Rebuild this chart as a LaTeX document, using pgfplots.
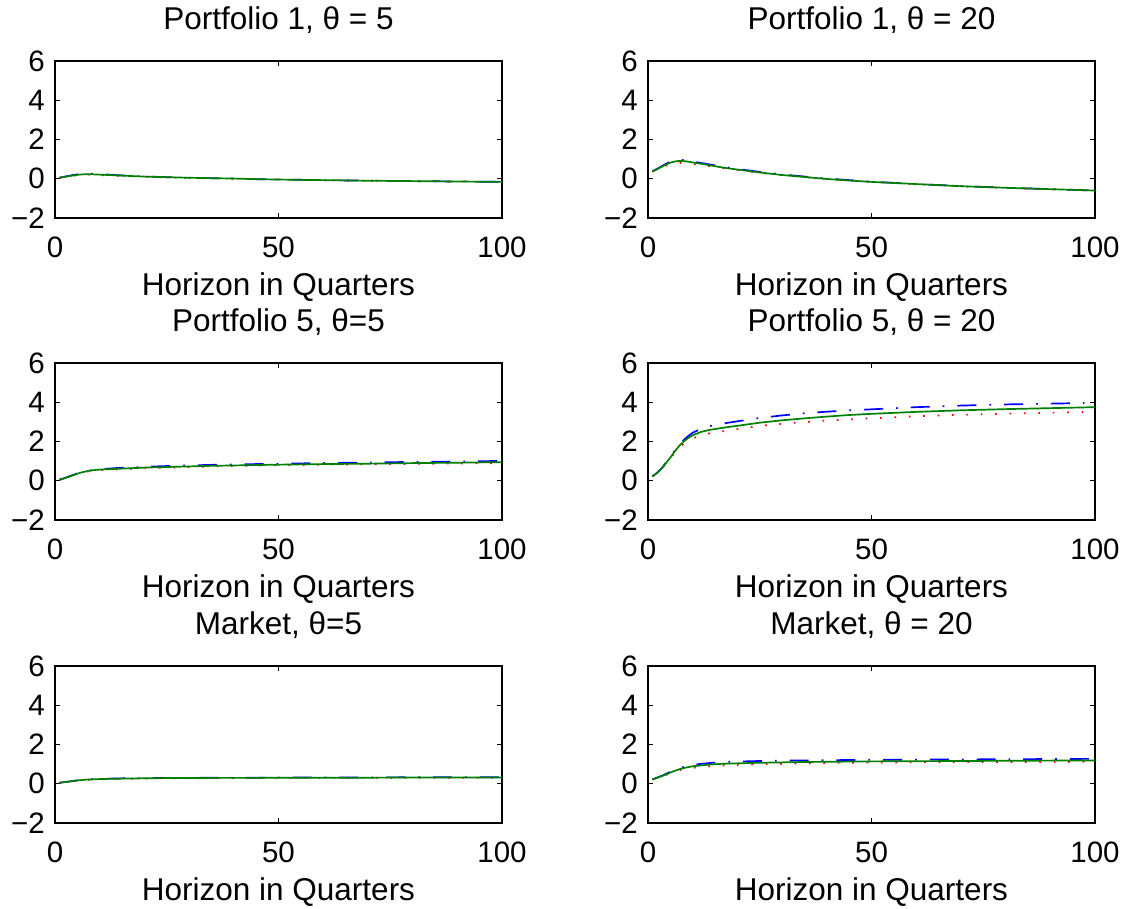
\documentclass[border=0pt]{standalone}
\usepackage{fontspec}
\setmainfont{Liberation Sans}
\usepackage{pgfplots}
\usepackage{pgfplotstable}
\pgfplotsset{compat=1.18}
\definecolor{mblue}{rgb}{0,0,1}
\definecolor{mred}{rgb}{1,0,0}
\definecolor{mgreen}{rgb}{0,0.5,0}
\newcommand{\fs}{\fontsize{29.5}{34}\selectfont}
\newcommand{\fl}{\fontsize{31.5}{36}\selectfont}

\pgfplotstableread{
x b r g
1 0.05 0.05 0.05
2 0.10 0.08 0.09
3 0.14 0.12 0.13
4 0.19 0.15 0.17
5 0.22 0.18 0.20
6 0.25 0.20 0.22
7 0.26 0.21 0.23
8 0.26 0.21 0.23
9 0.25 0.20 0.22
10 0.23 0.19 0.21
12 0.21 0.17 0.19
14 0.18 0.15 0.17
16 0.16 0.14 0.15
18 0.14 0.12 0.13
20 0.12 0.10 0.11
25 0.08 0.07 0.08
30 0.05 0.04 0.05
35 0.03 0.02 0.03
40 0.01 0.00 0.01
45 -0.02 -0.02 -0.02
50 -0.04 -0.04 -0.04
60 -0.07 -0.07 -0.07
70 -0.10 -0.10 -0.10
80 -0.12 -0.12 -0.12
90 -0.14 -0.14 -0.14
100 -0.16 -0.16 -0.16
}\tA
\pgfplotstableread{
x b r g
1 0.38 0.36 0.38
2 0.50 0.45 0.48
3 0.63 0.56 0.60
4 0.76 0.66 0.72
5 0.87 0.74 0.82
6 0.94 0.78 0.88
7 0.97 0.80 0.91
8 0.96 0.80 0.90
9 0.93 0.78 0.87
10 0.88 0.75 0.83
12 0.80 0.69 0.76
14 0.72 0.63 0.68
16 0.64 0.56 0.60
18 0.57 0.50 0.53
20 0.50 0.44 0.47
25 0.35 0.30 0.32
30 0.22 0.18 0.19
35 0.11 0.08 0.09
40 0.01 -0.01 -0.01
45 -0.07 -0.09 -0.09
50 -0.15 -0.16 -0.16
60 -0.27 -0.28 -0.27
70 -0.37 -0.38 -0.38
80 -0.46 -0.47 -0.46
90 -0.53 -0.54 -0.53
100 -0.60 -0.61 -0.60
}\tB
\pgfplotstableread{
x b r g
1 0.05 0.05 0.05
2 0.12 0.11 0.12
3 0.21 0.19 0.20
4 0.29 0.27 0.28
5 0.37 0.34 0.36
6 0.44 0.41 0.43
7 0.49 0.46 0.48
8 0.53 0.50 0.52
9 0.57 0.52 0.55
10 0.59 0.54 0.57
12 0.62 0.56 0.59
14 0.65 0.58 0.61
16 0.67 0.60 0.63
18 0.69 0.62 0.65
20 0.71 0.64 0.67
25 0.75 0.67 0.70
30 0.78 0.70 0.73
35 0.81 0.73 0.76
40 0.83 0.75 0.78
45 0.85 0.77 0.80
50 0.87 0.79 0.82
60 0.90 0.82 0.85
70 0.93 0.84 0.87
80 0.96 0.86 0.90
90 0.98 0.88 0.92
100 1.01 0.90 0.95
}\tC
\pgfplotstableread{
x b r g
1 0.22 0.22 0.22
2 0.40 0.40 0.40
3 0.62 0.60 0.60
4 0.92 0.88 0.90
5 1.22 1.15 1.18
6 1.55 1.43 1.50
7 1.85 1.68 1.78
8 2.08 1.88 2.00
9 2.28 2.04 2.18
10 2.45 2.16 2.32
12 2.66 2.33 2.50
14 2.79 2.43 2.60
16 2.88 2.50 2.67
18 2.96 2.56 2.74
20 3.03 2.63 2.80
25 3.20 2.80 2.96
30 3.33 2.90 3.08
35 3.44 2.99 3.18
40 3.52 3.07 3.27
45 3.59 3.13 3.35
50 3.64 3.18 3.41
60 3.75 3.29 3.51
70 3.83 3.36 3.59
80 3.89 3.42 3.65
90 3.93 3.47 3.70
100 3.97 3.51 3.75
}\tD
\pgfplotstableread{
x b r g
1 0.05 0.05 0.05
2 0.08 0.08 0.08
3 0.11 0.11 0.11
4 0.14 0.13 0.14
5 0.17 0.16 0.17
6 0.20 0.18 0.19
7 0.22 0.20 0.21
8 0.23 0.21 0.22
9 0.24 0.22 0.23
10 0.25 0.23 0.24
12 0.26 0.24 0.25
14 0.27 0.25 0.26
16 0.28 0.26 0.27
18 0.28 0.26 0.27
20 0.29 0.27 0.28
25 0.30 0.28 0.29
30 0.30 0.28 0.29
35 0.31 0.29 0.30
40 0.31 0.29 0.30
45 0.31 0.29 0.30
50 0.32 0.30 0.31
60 0.32 0.30 0.31
70 0.32 0.30 0.31
80 0.33 0.31 0.32
90 0.33 0.31 0.32
100 0.33 0.31 0.32
}\tE
\pgfplotstableread{
x b r g
1 0.22 0.22 0.22
2 0.31 0.29 0.30
3 0.40 0.37 0.38
4 0.50 0.45 0.47
5 0.61 0.54 0.57
6 0.71 0.62 0.66
7 0.79 0.69 0.74
8 0.86 0.74 0.80
9 0.91 0.78 0.85
10 0.96 0.81 0.89
12 1.02 0.86 0.94
14 1.06 0.89 0.98
16 1.10 0.92 1.01
18 1.12 0.94 1.03
20 1.13 0.96 1.04
25 1.16 1.00 1.07
30 1.18 1.02 1.09
35 1.19 1.04 1.11
40 1.20 1.06 1.12
45 1.21 1.07 1.13
50 1.22 1.08 1.14
60 1.23 1.09 1.15
70 1.24 1.10 1.16
80 1.25 1.11 1.17
90 1.26 1.11 1.18
100 1.27 1.12 1.19
}\tF

\pgfplotsset{
 panel/.style={
  scale only axis, width=447pt, height=157pt, anchor=south west,
  xmin=0, xmax=100, ymin=-2, ymax=6,
  xtick={0,50,100}, ytick={-2,0,2,4,6}, yticklabels={−2,0,2,4,6},
  tick align=inside, major tick length=5pt,
  tick style={black, line width=0.9pt},
  axis line style={line width=1.4pt},
  /pgf/number format/assume math mode=true,
  tick label style={font=\fs},
  xticklabel style={anchor=base, yshift=-39pt},
  yticklabel style={anchor=east, inner sep=0pt, xshift=-10pt},
  title style={font=\fl, at={(axis description cs:0.5,1)}, anchor=base, yshift=26pt},
  xlabel style={font=\fl, at={(axis description cs:0.5,0)}, anchor=base, yshift=-77pt},
  xlabel={Horizon in Quarters},
 },
 bl/.style={mblue, line width=1.7pt, dash pattern=on 19pt off 13pt on 1.7pt off 13pt},
 rd/.style={mred, line width=1.7pt, dash pattern=on 1.7pt off 12.7pt},
 gr/.style={mgreen, line width=1.7pt},
}

\begin{document}
\begin{tikzpicture}
\useasboundingbox (0,0) rectangle (1135pt,-908pt);
% Row 1
\begin{axis}[panel, at={(55pt,-218pt)}, title={Portfolio 1, θ = 5}]
\addplot[bl] table[x=x,y=b] {\tA};
\addplot[rd] table[x=x,y=r] {\tA};
\addplot[gr] table[x=x,y=g] {\tA};
\end{axis}
\begin{axis}[panel, at={(648pt,-218pt)}, title={Portfolio 1, θ = 20}]
\addplot[bl] table[x=x,y=b] {\tB};
\addplot[rd] table[x=x,y=r] {\tB};
\addplot[gr] table[x=x,y=g] {\tB};
\end{axis}
% Row 2
\begin{axis}[panel, at={(55pt,-520pt)}, title={Portfolio 5, θ=5}]
\addplot[bl] table[x=x,y=b] {\tC};
\addplot[rd] table[x=x,y=r] {\tC};
\addplot[gr] table[x=x,y=g] {\tC};
\end{axis}
\begin{axis}[panel, at={(648pt,-520pt)}, title={Portfolio 5, θ = 20}]
\addplot[bl] table[x=x,y=b] {\tD};
\addplot[rd] table[x=x,y=r] {\tD};
\addplot[gr] table[x=x,y=g] {\tD};
\end{axis}
% Row 3
\begin{axis}[panel, at={(55pt,-823pt)}, title={Market, θ=5}]
\addplot[bl] table[x=x,y=b] {\tE};
\addplot[rd] table[x=x,y=r] {\tE};
\addplot[gr] table[x=x,y=g] {\tE};
\end{axis}
\begin{axis}[panel, at={(648pt,-823pt)}, title={Market, θ = 20}]
\addplot[bl] table[x=x,y=b] {\tF};
\addplot[rd] table[x=x,y=r] {\tF};
\addplot[gr] table[x=x,y=g] {\tF};
\end{axis}
\end{tikzpicture}
\end{document}
